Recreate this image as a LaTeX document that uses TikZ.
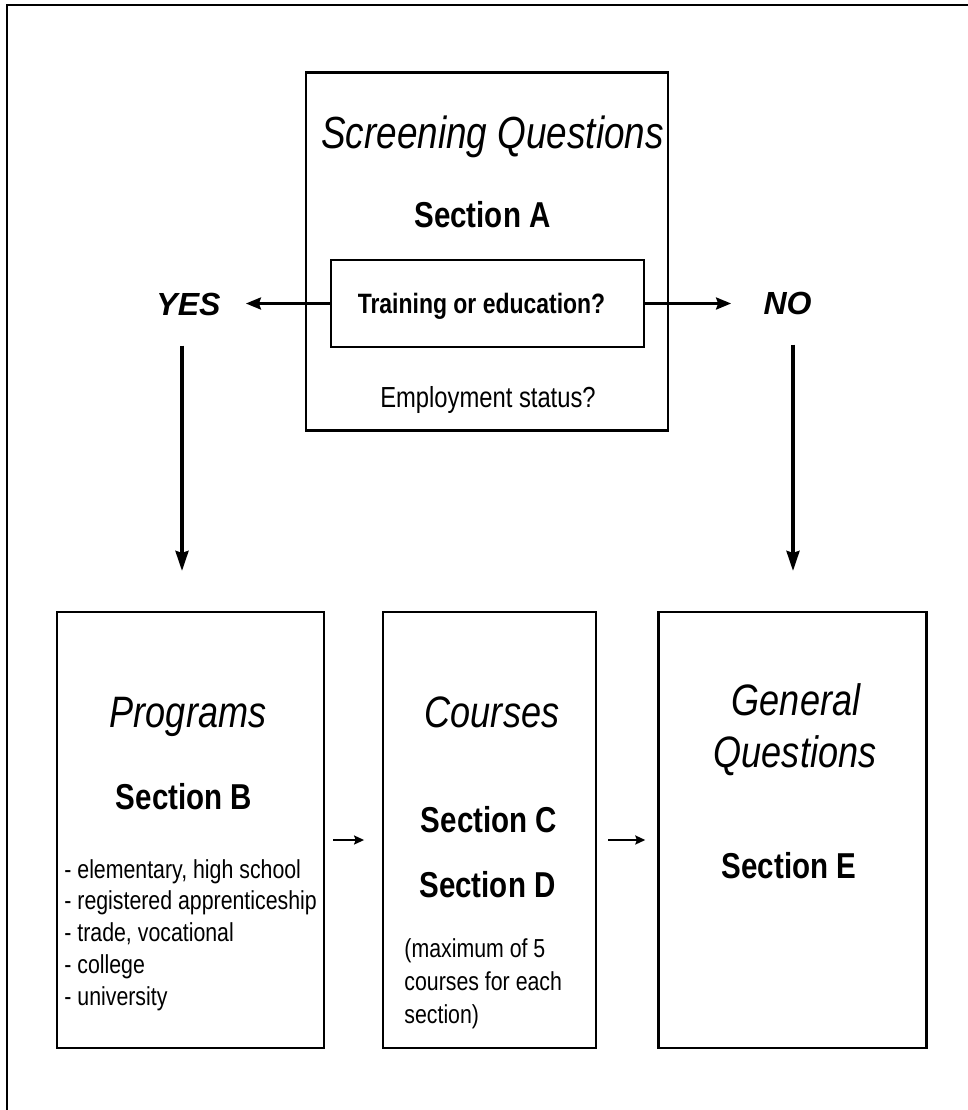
\documentclass[tikz,border=0pt]{standalone}
\usepackage{fontspec}
\setmainfont{Liberation Sans}[FakeStretch=0.82]
\newfontfamily\yesnofont{Liberation Sans}
\usepackage{tikz}
\usetikzlibrary{arrows.meta,positioning}

\begin{document}
\begin{tikzpicture}[
  x=0.5pt, y=-0.5pt,
  box/.style={draw, line width=1.1pt, inner sep=0pt},
  ttl/.style={font=\fontsize{22}{26}\selectfont\itshape, inner sep=0pt},
  sec/.style={font=\fontsize{18}{21}\selectfont\bfseries, inner sep=0pt},
  item/.style={font=\fontsize{13}{16}\selectfont, inner sep=0pt},
  yn/.style={font=\yesnofont\fontsize{16}{19}\selectfont\bfseries\itshape, inner sep=0pt},
  harrow/.style={line width=1.4pt, -{Stealth[length=7.5pt, width=6pt, inset=1pt]}},
  varrow/.style={line width=1.6pt, -{Stealth[length=10pt, width=6.5pt, inset=1pt]}},
  sarrow/.style={line width=1pt, -{Stealth[length=5pt, width=4.5pt, inset=0.8pt]}}
]
\useasboundingbox (0,0) rectangle (968,1110);
\draw[line width=1pt] (7,1110) -- (7,4.5) -- (968,4.5);

% screening part
\node[box, minimum width=181pt, minimum height=179pt] (screen) at (487,251.5) {};
\node[ttl, font=\fontsize{22.5}{26}\selectfont\itshape, anchor=base] (sq) at (492.5,148) {Screening Questions};
\node[sec, anchor=base] (secA) at (482.5,227) {Section A};
\node[box, line width=1pt, minimum width=156.5pt, minimum height=43.5pt] (ask) at (487.5,303.5) {};
\node[font=\fontsize{14}{17}\selectfont\bfseries, inner sep=0pt, anchor=base] (asktxt) at (481.5,313) {Training or education?};
\node[item, font=\fontsize{14.5}{17}\selectfont, anchor=base] (emp) at (488,407) {Employment status?};
\node[yn, anchor=base] (yes) at (188.5,315) {YES};
\node[yn, anchor=base] (no) at (787.5,314) {NO};

\draw[harrow, shorten >=12.5pt] (ask.west) -- (ask.west -| yes.east);
\draw[harrow, shorten >=16pt] (ask.east) -- (ask.east -| no.west);

% lower row
\node[box, minimum width=133.5pt, minimum height=218pt] (prog) at (190.5,830) {};
\node[box, minimum width=106.5pt, minimum height=218pt, right=28.5pt of prog] (crs) {};
\node[box, minimum width=134pt, minimum height=218pt, right=30pt of crs] (gen) {};

\draw[varrow, shorten <=15pt, shorten >=20pt] ([xshift=-3.25pt]yes.south) -- ([xshift=-3.25pt]yes.south |- prog.north);
\draw[varrow, shorten <=15pt, shorten >=20pt] ([xshift=2.75pt]no.south) -- ([xshift=2.75pt]no.south |- gen.north);

\node[ttl, anchor=base] (pt) at (188,727) {Programs};
\node[sec, anchor=base] (secB) at (184,809) {Section B};
\foreach \t [count=\i] in {{- elementary, high school}, {- registered apprenticeship},
    {- trade, vocational}, {- college}, {- university}}
  \node[item, anchor=base west] (prog\i) at (64,{878+31.75*(\i-1)}) {\t};

\node[ttl, anchor=base] (ct) at (492,727) {Courses};
\node[sec, anchor=base] (secC) at (489,832) {Section C};
\node[sec, anchor=base] (secD) at (487.5,897) {Section D};
\node[item, anchor=base west] (max1) at (404,957) {(maximum of 5};
\node[item, anchor=base west] (max2) at (404,990) {courses for each};
\node[item, anchor=base west] (max3) at (404,1023) {section)};

\node[ttl, anchor=base] (gt1) at (796,715) {General};
\node[ttl, anchor=base] (gt2) at (795,767) {Questions};
\node[sec, anchor=base] (secE) at (789,878) {Section E};

\draw[sarrow, shorten <=4pt, shorten >=9pt] ([yshift=-5pt]prog.east) -- ([yshift=-5pt]crs.west);
\draw[sarrow, shorten <=5.5pt, shorten >=6pt] ([yshift=-5pt]crs.east) -- ([yshift=-5pt]gen.west);
\end{tikzpicture}
\end{document}
